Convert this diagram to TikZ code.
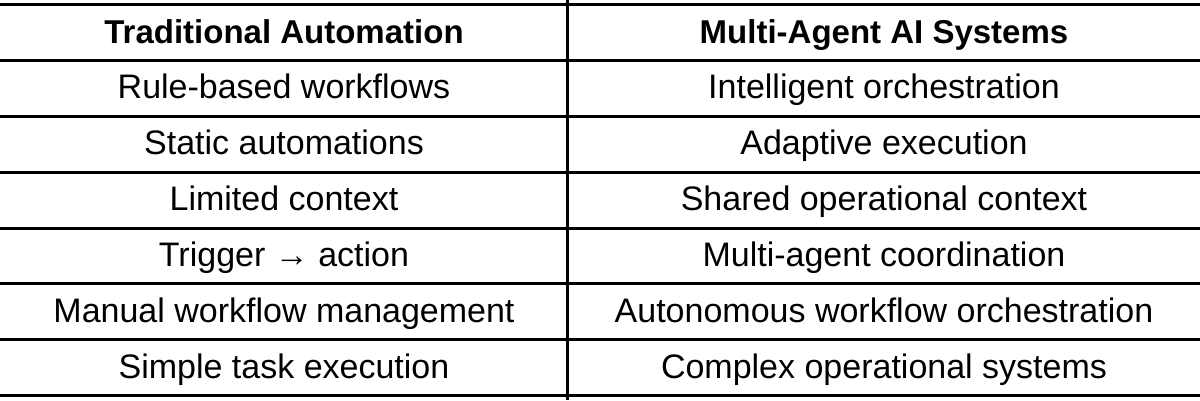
\documentclass[tikz,border=0pt]{standalone}
\usepackage{fontspec}
\setmainfont{Liberation Sans}
\begin{document}
\begin{tikzpicture}[x=1pt,y=-1pt,
  cell/.style={font=\fontsize{34}{40}\selectfont, anchor=base, inner sep=0pt},
  head/.style={cell, font=\fontsize{33}{40}\selectfont\bfseries},
  rule/.style={line width=3pt, black}]
\useasboundingbox (0,0) rectangle (1200,400);
\foreach \y in {4,60,116,172,228,283,339,395} \draw[rule] (0,\y) -- (1200,\y);
\draw[rule] (567,0) -- (567,400);
\node[head] (h1) at (284,43) {Traditional Automation};
\node[head] (h2) at (884,43) {Multi-Agent AI Systems};
\foreach \i/\a/\b in {1/Rule-based workflows/Intelligent orchestration,
  2/Static automations/Adaptive execution,
  3/Limited context/Shared operational context,
  4/Trigger → action/Multi-agent coordination,
  5/Manual workflow management/Autonomous workflow orchestration,
  6/Simple task execution/Complex operational systems}
{
  \node[cell] (l\i) at (284,{43+55.9*\i}) {\a};
  \node[cell] (r\i) at (884,{43+55.9*\i}) {\b};
}
\end{tikzpicture}
\end{document}
